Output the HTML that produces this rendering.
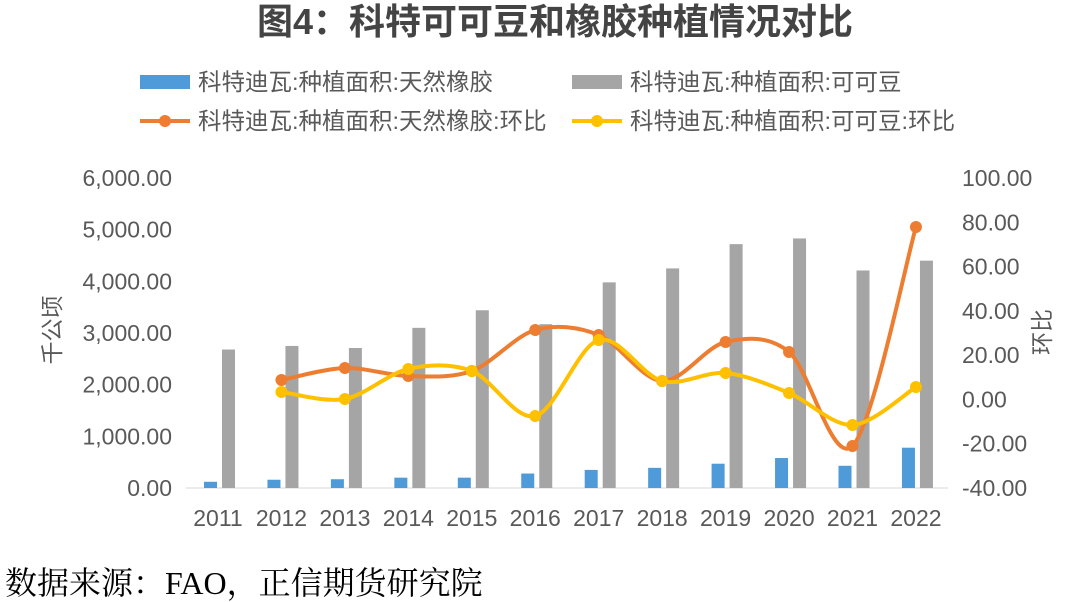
<!DOCTYPE html>
<html><head><meta charset="utf-8"><style>
body{margin:0;background:#fff;width:1078px;height:602px;overflow:hidden}
svg{display:block}
</style></head><body>
<svg id="s" width="1078" height="602" xmlns="http://www.w3.org/2000/svg" font-family="Liberation Sans, Noto Sans CJK SC, sans-serif">
<text x="555" y="34" text-anchor="middle" font-size="36" font-weight="bold" fill="#444">图4：科特可可豆和橡胶种植情况对比</text>
<rect x="140" y="75" width="50" height="14" fill="#4f9ad8"/>
<text x="198" y="90" font-size="23.5" fill="#595959">科特迪瓦:种植面积:天然橡胶</text>
<rect x="572" y="75" width="50" height="14" fill="#a5a5a5"/>
<text x="630" y="90" font-size="23.5" fill="#595959">科特迪瓦:种植面积:可可豆</text>
<line x1="140" y1="121" x2="190" y2="121" stroke="#ed7d31" stroke-width="4"/><circle cx="165" cy="121" r="6" fill="#ed7d31"/>
<text x="198" y="129" font-size="23.5" fill="#595959">科特迪瓦:种植面积:天然橡胶:环比</text>
<line x1="572" y1="121" x2="622" y2="121" stroke="#ffc000" stroke-width="4"/><circle cx="597" cy="121" r="6" fill="#ffc000"/>
<text x="630" y="129" font-size="23.5" fill="#595959">科特迪瓦:种植面积:可可豆:环比</text>
<g id="ax" font-size="23" fill="#595959"></g>
<text transform="translate(60,330) rotate(-90)" text-anchor="middle" font-size="23" fill="#595959">千公顷</text>
<text transform="translate(1050,332) rotate(-90)" text-anchor="middle" font-size="23" fill="#595959">环比</text>
<line x1="186" y1="488" x2="948" y2="488" stroke="#d9d9d9" stroke-width="1"/>
<g id="bars"></g><g id="lines"></g>
<text x="5" y="594" font-family="Liberation Serif, Noto Serif CJK SC, serif" font-size="32" fill="#000">数据来源：FAO，正信期货研究院</text>
</svg>
<script>
var ns="http://www.w3.org/2000/svg";
function el(p,t,a,txt){var e=document.createElementNS(ns,t);for(var k in a)e.setAttribute(k,a[k]);if(txt!=null)e.textContent=txt;document.getElementById(p).appendChild(e);}
var y0=488,ppu=310/6000;
for(var i=0;i<=6;i++){var y=y0-i*1000*ppu;el("ax","text",{x:172,y:y+8,"text-anchor":"end"},(i*1000).toLocaleString("en-US")+".00");}
for(var i=0;i<=7;i++){var y=y0-i*310/7;var r=-40+i*20;el("ax","text",{x:962,y:y+8},r.toFixed(2));}
var cx=function(i){return 218+63.45*i};
for(var i=0;i<12;i++)el("ax","text",{x:cx(i),y:526,"text-anchor":"middle"},2011+i);
var g=[2680,2750,2710,3100,3440,3170,3980,4250,4720,4830,4210,4400];
var b=[120,160,170,200,200,280,350,390,470,580,430,780];
for(var i=0;i<12;i++){el("bars","rect",{x:cx(i)-14,y:y0-b[i]*ppu,width:13,height:b[i]*ppu,fill:"#4f9ad8"});
el("bars","rect",{x:cx(i)+4,y:y0-g[i]*ppu,width:13,height:g[i]*ppu,fill:"#a5a5a5"});}
function path(ys,col){var p=ys.map(function(y,i){return[cx(i+1),y]});var d="M"+p[0][0]+","+p[0][1];
for(var i=0;i<p.length-1;i++){var a=p[i-1]||p[i],b0=p[i],c=p[i+1],e=p[i+2]||c;var t=0.16;
d+=" C"+(b0[0]+(c[0]-a[0])*t)+","+(b0[1]+(c[1]-a[1])*t)+" "+(c[0]-(e[0]-b0[0])*t)+","+(c[1]-(e[1]-b0[1])*t)+" "+c[0]+","+c[1];}
el("lines","path",{d:d,fill:"none",stroke:col,"stroke-width":4});
p.forEach(function(q){el("lines","circle",{cx:q[0],cy:q[1],r:6,fill:col})});}
path([380,368,376,371,330,335,381,342,352,446,227],"#ed7d31");
path([392,399,369,371,416,340,381,373,393,425,387],"#ffc000");
</script>
</body></html>
